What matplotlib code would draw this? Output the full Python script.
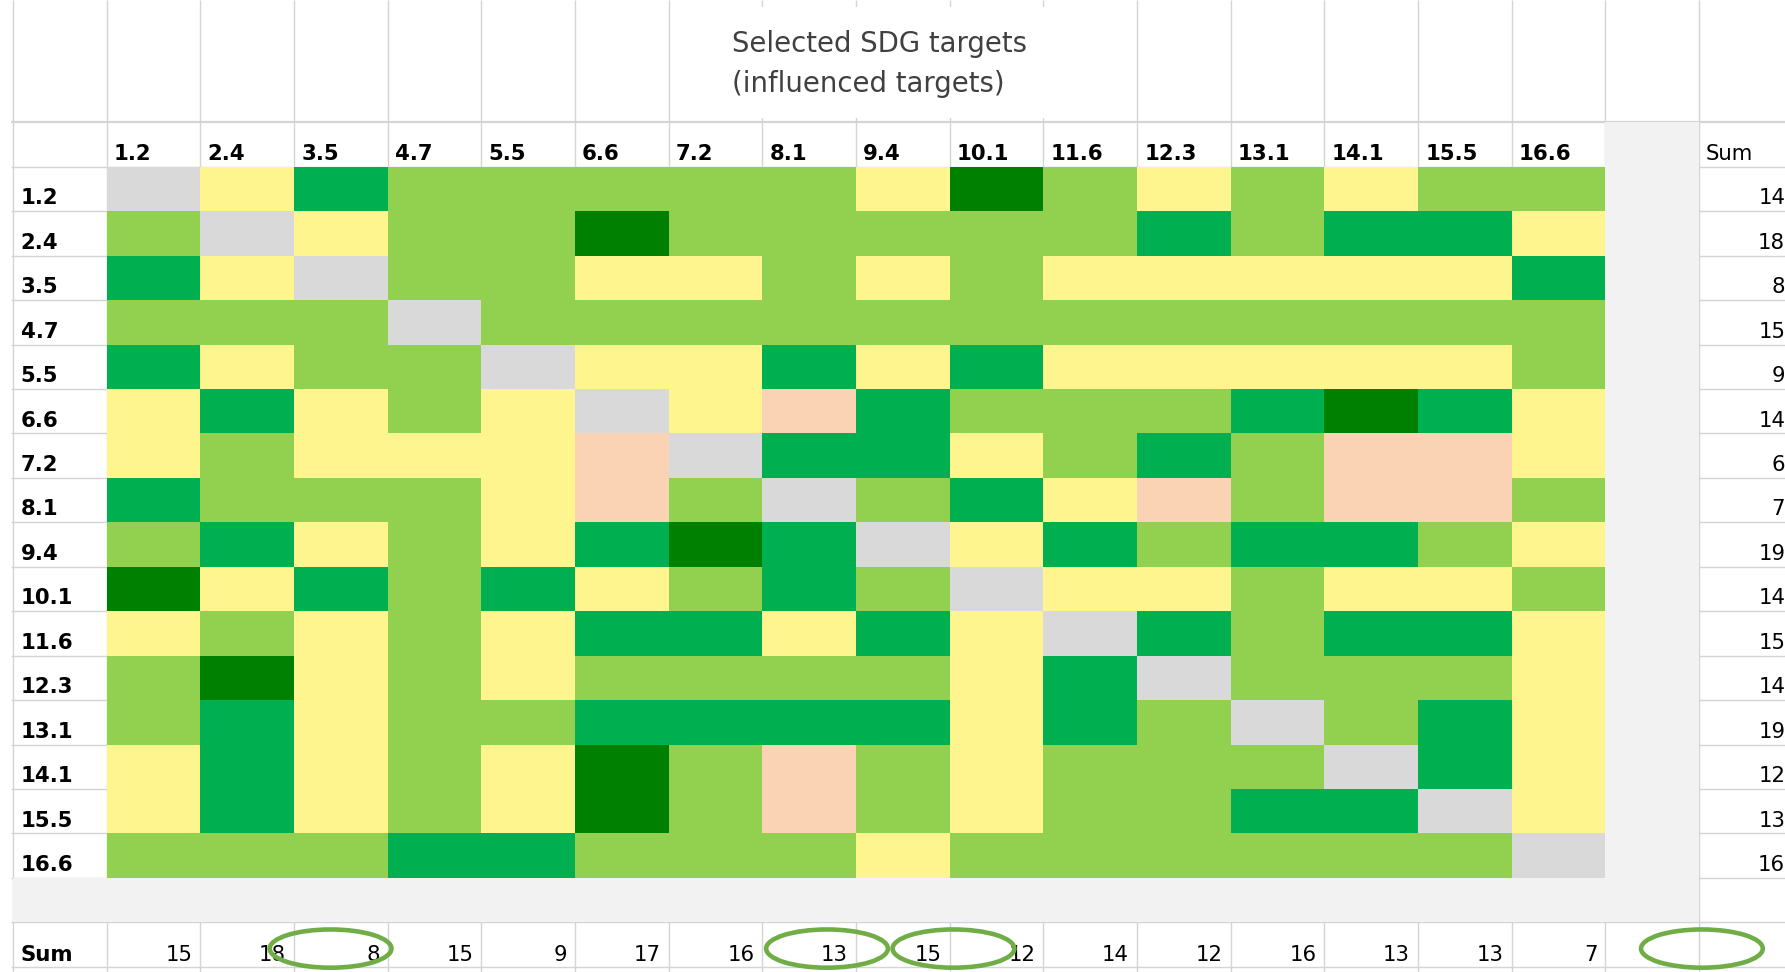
import matplotlib
matplotlib.use("Agg")
import matplotlib.pyplot as plt
import numpy as np
from matplotlib.colors import ListedColormap
from matplotlib.patches import Rectangle, Ellipse

# ---------------- data ----------------
targets = ["1.2", "2.4", "3.5", "4.7", "5.5", "6.6", "7.2", "8.1",
           "9.4", "10.1", "11.6", "12.3", "13.1", "14.1", "15.5", "16.6"]

# interaction category of each cell (row = influencing target, col = influenced target)
# G = same target (diagonal), Y = yellow, L = light green, M = green, D = dark green, P = peach
category_keys = ["G", "Y", "L", "M", "D", "P"]
category_colors = ["#D9D9D9", "#FFF58F", "#92D050", "#00B050", "#008000", "#F9D3B4"]

interaction_rows = [
    "GYMLLLLLYDLYLYLL",  # 1.2
    "LGYLLDLLLLLMLMMY",  # 2.4
    "MYGLLYYLYLYYYYYM",  # 3.5
    "LLLGLLLLLLLLLLLL",  # 4.7
    "MYLLGYYMYMYYYYYL",  # 5.5
    "YMYLYGYPMLLLMDMY",  # 6.6
    "YLYYYPGMMYLMLPPY",  # 7.2
    "MLLLYPLGLMYPLPPL",  # 8.1
    "LMYLYMDMGYMLMMLY",  # 9.4
    "DYMLMYLMLGYYLYYL",  # 10.1
    "YLYLYMMYMYGMLMMY",  # 11.6
    "LDYLYLLLLYMGLLLY",  # 12.3
    "LMYLLMMMMYMLGLMY",  # 13.1
    "YMYLYDLPLYLLLGMY",  # 14.1
    "YMYLYDLPLYLLMMGY",  # 15.5
    "LLLMMLLLYLLLLLLG",  # 16.6
]

row_sums = [14, 18, 8, 15, 9, 14, 6, 7, 19, 14, 15, 14, 19, 12, 13, 16]
col_sums = [15, 18, 8, 15, 9, 17, 16, 13, 15, 12, 14, 12, 16, 13, 13, 7]

title_lines = ["Selected SDG targets", "(influenced targets)"]
sum_label = "Sum"

# ---------------- layout (cell units) ----------------
W, H = 1785, 972
COL_W, ROW_H = 93.67, 44.45
X_ORIG, Y_ORIG = 106.7, 166.7
X0, X1 = -X_ORIG / COL_W, (W - X_ORIG) / COL_W
Y0, Y1 = -Y_ORIG / ROW_H, (H - Y_ORIG) / ROW_H

n = len(targets)
GAP_COL = n          # grey spacer column
SUM_COL = n + 1      # row-sum column
BAND_ROW = n         # grey spacer row
SUM_ROW = n + 1      # column-sum row

grid_color = "#D4D4D4"
band_color = "#F2F2F2"
ring_color = "#70AD47"
FONT = "DejaVu Sans"
FS = 15.3

fig = plt.figure(figsize=(W / 100, H / 100), dpi=100)
ax = fig.add_axes([0, 0, 1, 1])
ax.set_xlim(X0, X1)
ax.set_ylim(Y1, Y0)
ax.axis("off")

# spreadsheet gridlines
for c in range(-1, SUM_COL + 2):
    ax.vlines(c, Y0, Y1, color=grid_color, lw=1.0, zorder=1)
for r in range(-1, SUM_ROW + 2):
    ax.hlines(r, -1.02, X1, color=grid_color, lw=1.6 if r == -1 else 1.0, zorder=1)

# grey spacer column and row
ax.add_patch(Rectangle((GAP_COL, -1), 1, BAND_ROW + 1, facecolor=band_color,
                       edgecolor="none", zorder=2))
ax.add_patch(Rectangle((-1, BAND_ROW), SUM_COL + 1, 1, facecolor=band_color,
                       edgecolor="none", zorder=2))

# heatmap cells
codes = np.array([[category_keys.index(ch) for ch in row] for row in interaction_rows])
cmap = ListedColormap(category_colors)
ax.pcolormesh(np.arange(n + 1), np.arange(n + 1), codes, cmap=cmap,
              vmin=-0.5, vmax=len(category_keys) - 0.5, shading="flat",
              edgecolors="none", antialiased=False, zorder=3)

# title text box (covers the gridlines like a spreadsheet shape)
ax.add_patch(Rectangle((6.02, -3.59), 4.24, 2.49, facecolor="white",
                       edgecolor="none", zorder=4))
ax.text(6.675, -2.587, title_lines[0], ha="left", va="baseline", fontsize=19.8,
        family=FONT, color="#404040", zorder=5)
ax.text(6.675, -1.687, title_lines[1], ha="left", va="baseline", fontsize=19.8,
        family=FONT, color="#404040", zorder=5)

# column headers
for j, t in enumerate(targets):
    ax.text(j + 0.075, -0.151, t, ha="left", va="baseline", fontsize=FS,
            family=FONT, fontweight="bold", color="black", zorder=5)
ax.text(SUM_COL + 0.075, -0.151, sum_label, ha="left", va="baseline", fontsize=FS,
        family=FONT, color="black", zorder=5)

# row labels and row sums
for i, t in enumerate(targets):
    ax.text(-0.92, i + 0.846, t, ha="left", va="baseline", fontsize=FS,
            family=FONT, fontweight="bold", color="black", zorder=5)
    ax.text(SUM_COL + 0.92, i + 0.846, str(row_sums[i]), ha="right", va="baseline",
            fontsize=FS, family=FONT, color="black", zorder=5)

# column sums
ax.text(-0.92, SUM_ROW + 0.87, sum_label, ha="left", va="baseline", fontsize=FS,
        family=FONT, fontweight="bold", color="black", zorder=5)
for j, s in enumerate(col_sums):
    ax.text(j + 0.915, SUM_ROW + 0.87, str(s), ha="right", va="baseline",
            fontsize=FS, family=FONT, color="black", zorder=5)

# hand-drawn highlight rings
ring_centers = [2.39, 7.69, 9.04, 17.03]
for cx in ring_centers:
    ax.add_patch(Ellipse((cx, SUM_ROW + 0.59), 1.30, 0.86, facecolor="none",
                         edgecolor=ring_color, lw=3.3, zorder=6))

fig.savefig("out.png", dpi=100)
